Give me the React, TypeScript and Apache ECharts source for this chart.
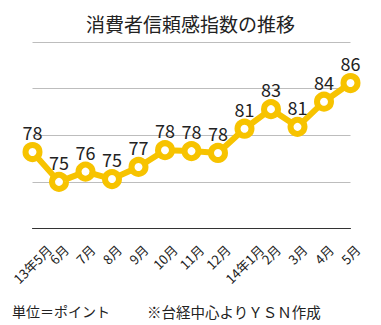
import React, { useEffect, useRef } from "react";
import * as echarts from "echarts";

const titleText = "消費者信頼感指数の推移";
const categories = ["13年5月", "6月", "7月", "8月", "9月", "10月", "11月", "12月", "14年1月", "2月", "3月", "4月", "5月"];
const values = [78.2, 75.0, 76.1, 75.3, 76.6, 78.4, 78.3, 78.1, 80.7, 82.8, 80.9, 83.6, 85.6];
const yMin = 70;
const yMax = 90;
const yStep = 5;
const noteLeft = "単位＝ポイント";
const noteRight = "※台経中心よりＹＳＮ作成";

const FONT = "'Noto Sans CJK JP', 'Noto Sans', sans-serif";
const GOLD = "#F7C300";

function measure(text: string, size: number): number {
  const c = document.createElement("canvas");
  const ctx = c.getContext("2d");
  if (!ctx) return text.length * size * 0.8;
  ctx.font = `${size}px ${FONT}`;
  return ctx.measureText(text).width;
}

export default function App() {
  const ref = useRef<HTMLDivElement>(null);
  useEffect(() => {
    if (!ref.current) return;
    const chart = echarts.init(ref.current, undefined, { renderer: "svg" });
    const labelSize = 13;
    const rich: Record<string, any> = {};
    categories.forEach((c, i) => {
      const w = measure(c, labelSize);
      const p = (w + 12) / 2;
      rich["l" + i] = { padding: [p, p, 0, 0], fontSize: labelSize, fontFamily: FONT, color: "#222" };
    });
    chart.setOption({
      animation: false,
      backgroundColor: "#fff",
      title: {
        text: titleText,
        left: "center",
        top: 9,
        textStyle: { fontSize: 19, fontWeight: "normal", color: "#222", fontFamily: FONT },
      },
      grid: { left: 32.5, right: 30.5, top: 42, bottom: 96.5 },
      xAxis: {
        type: "category",
        data: categories,
        boundaryGap: false,
        axisLine: { lineStyle: { color: "#333", width: 1 } },
        axisTick: { show: false },
        splitLine: { show: false },
        axisLabel: {
          interval: 0,
          rotate: 45,
          margin: 14.5,
          align: "center",
          verticalAlign: "middle",
          hideOverlap: false,
          fontSize: labelSize,
          fontFamily: FONT,
          color: "#222",
          formatter: (v: string, i: number) => `{l${i}|${v}}`,
          rich,
        },
      },
      yAxis: {
        type: "value",
        min: yMin,
        max: yMax,
        interval: yStep,
        axisLabel: { show: false },
        axisLine: { show: false },
        axisTick: { show: false },
        splitLine: { lineStyle: { color: "#bdbdbd", width: 1 } },
      },
      series: [
        {
          type: "line",
          data: values,
          lineStyle: { color: GOLD, width: 6 },
          symbol: "circle",
          symbolSize: 14,
          itemStyle: { color: "#fff", borderColor: GOLD, borderWidth: 6 },
          label: {
            show: true,
            position: "top",
            distance: 1,
            fontSize: 18,
            fontFamily: FONT,
            color: "#222",
            formatter: (p: any) => String(Math.round(p.value)),
          },
          z: 3,
        },
      ],
      graphic: [
        {
          type: "text",
          left: 12,
          top: 304,
          style: { text: noteLeft, fontSize: 14, fontFamily: FONT, fill: "#222" },
        },
        {
          type: "text",
          left: 147,
          top: 304,
          style: { text: noteRight, fontSize: 14.5, fontFamily: FONT, fill: "#222" },
        },
      ],
    });
    return () => chart.dispose();
  }, []);
  return (
    <div
      ref={ref}
      style={{ position: "fixed", left: 0, top: 0, width: 381, height: 325, background: "#fff" }}
    />
  );
}
